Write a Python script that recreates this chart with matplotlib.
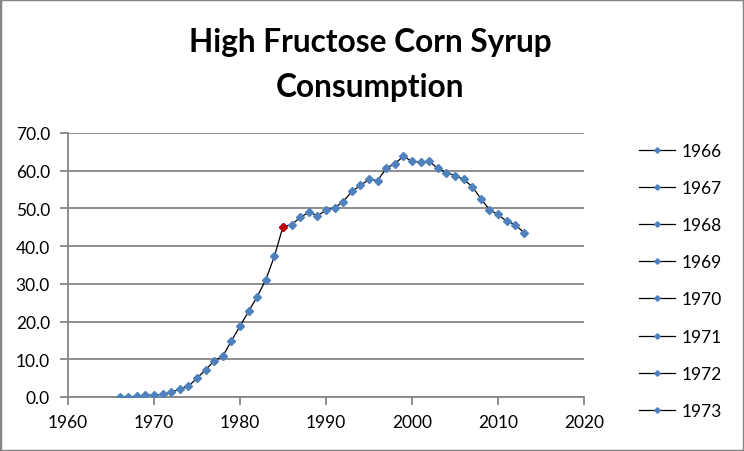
import matplotlib
matplotlib.use("Agg")
import matplotlib.pyplot as plt
from matplotlib.lines import Line2D
from matplotlib.patches import Rectangle

plt.rcParams['font.family'] = ['Lato', 'DejaVu Sans']

years = list(range(1966, 2014))
consumption = [0.0, 0.0, 0.2, 0.5, 0.5, 0.7, 1.25, 2.1, 2.85, 5.0,
               7.2, 9.6, 10.8, 14.9, 18.8, 22.7, 26.6, 31.1, 37.3, 45.2,
               45.7, 47.6, 49.0, 48.1, 49.5, 50.2, 51.8, 54.5, 56.1, 57.7,
               57.4, 60.6, 61.9, 63.8, 62.5, 62.2, 62.5, 60.6, 59.5, 58.7,
               57.7, 55.8, 52.6, 49.7, 48.4, 46.6, 45.7, 43.6]
highlight_year = 1985
legend_labels = ["1966", "1967", "1968", "1969", "1970", "1971", "1972", "1973"]
x_ticks = [1960, 1970, 1980, 1990, 2000, 2010, 2020]
y_ticks = [0, 10, 20, 30, 40, 50, 60, 70]
title = "High Fructose Corn Syrup\nConsumption"

blue = "#4F81BD"
grey = "#868686"

fig = plt.figure(figsize=(7.44, 4.52), dpi=100)
ax = fig.add_axes([68/744, 54/452, (584-68)/744, (318-54)/452])

ax.plot(years, consumption, color="black", lw=0.9, marker="D", markersize=4.2,
        markerfacecolor=blue, markeredgecolor=blue, zorder=3)
hi = years.index(highlight_year)
ax.plot([years[hi]], [consumption[hi]], linestyle="none", marker="D", markersize=3.6,
        markerfacecolor="#C00000", markeredgecolor="#C00000", zorder=4)

ax.set_xlim(1960, 2020)
ax.set_ylim(0, 70)
ax.set_xticks(x_ticks)
ax.set_yticks(y_ticks)
ax.set_yticklabels([f"{v:.1f}" for v in y_ticks])
ax.grid(axis="y", color=grey, lw=1.3)
ax.set_axisbelow(True)
for s in ["top", "right"]:
    ax.spines[s].set_visible(False)
for s in ["left", "bottom"]:
    ax.spines[s].set_color(grey)
    ax.spines[s].set_linewidth(1.3)
ax.tick_params(axis="both", direction="out", length=6, width=1.3, color=grey,
               labelsize=12.5, labelcolor="black")
ax.tick_params(axis="x", pad=6)
ax.tick_params(axis="y", pad=7)

fig.text(370/744, 1 - 65/452, title, ha="center", va="center", fontsize=22.8,
         fontweight="bold", linespacing=1.68)

handles = [Line2D([0], [0], color="black", lw=0.9, marker="D", markersize=2.8,
                  markerfacecolor=blue, markeredgecolor=blue) for _ in legend_labels]
fig.legend(handles, legend_labels, loc="upper left",
           bbox_to_anchor=(630/744, 1 - 135/452), frameon=False, fontsize=12.5,
           handlelength=2.1, handletextpad=0.35, labelspacing=1.22, borderpad=0)

fig.patches.append(Rectangle((0, 0), 1, 1, transform=fig.transFigure, fill=False,
                             edgecolor=grey, lw=2.5))

fig.savefig("out.png", dpi=100)
